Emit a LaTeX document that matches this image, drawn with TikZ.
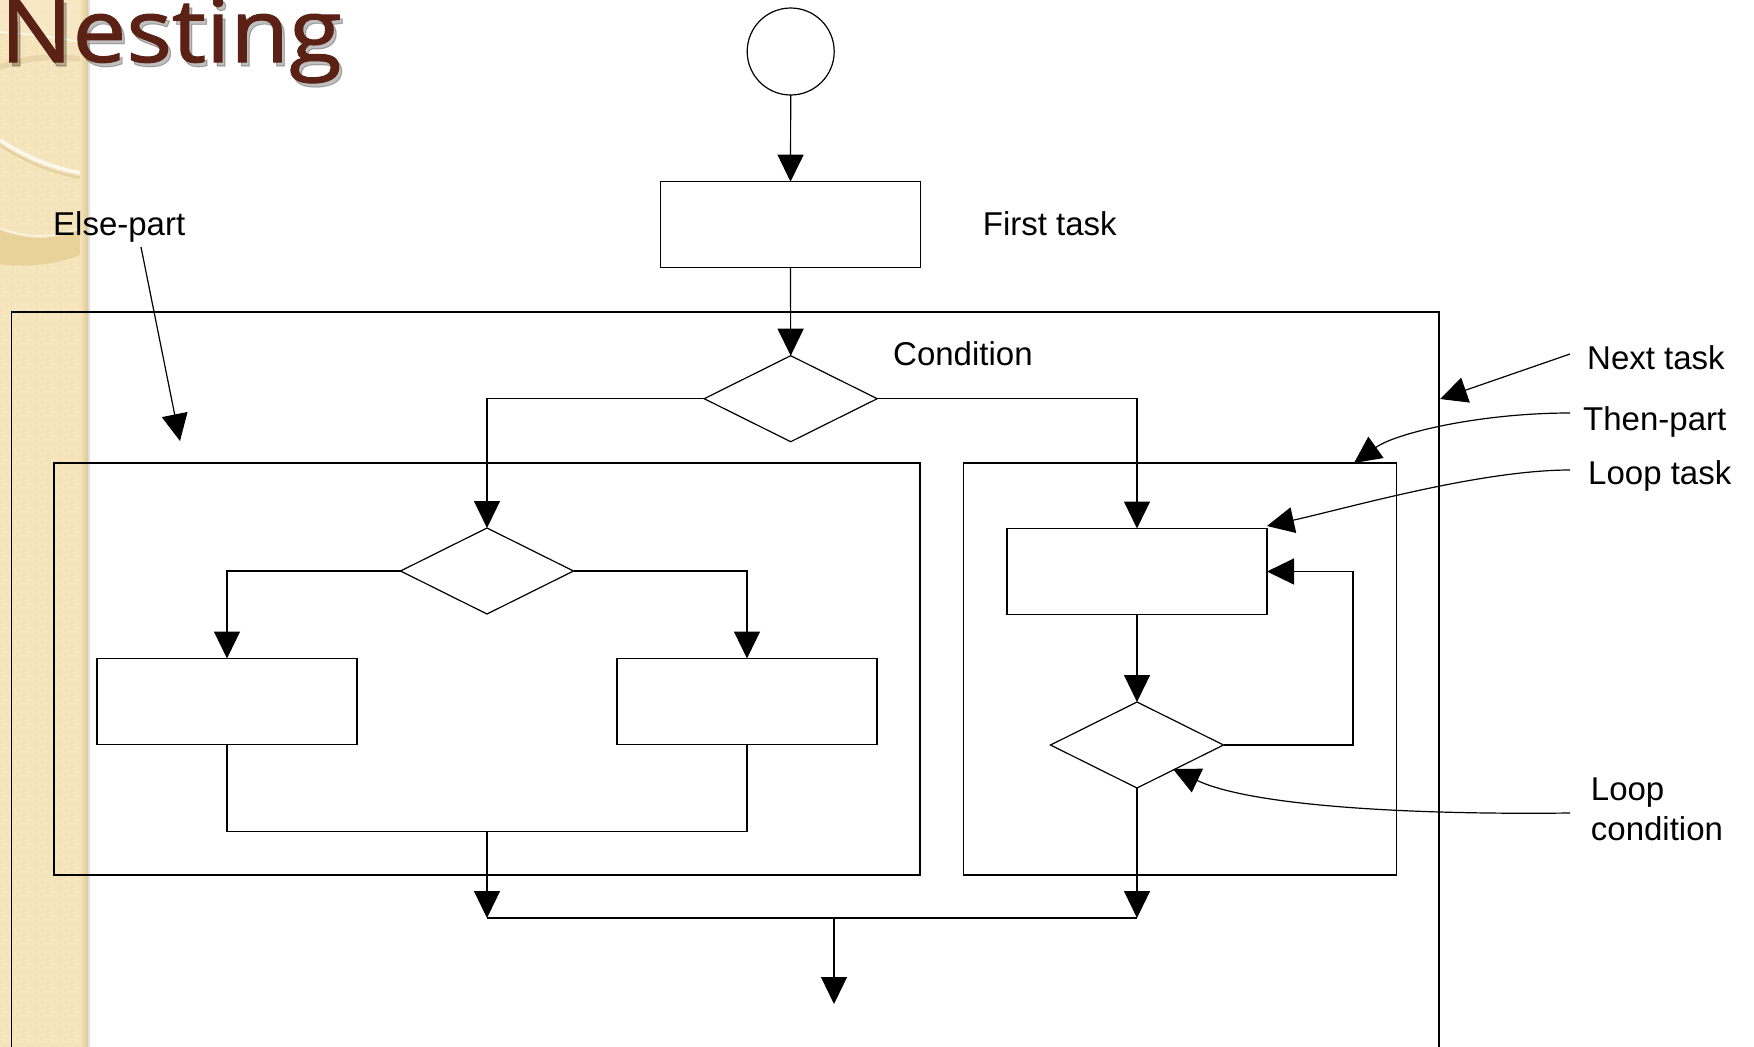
\documentclass[tikz,border=0pt]{standalone}
\usepackage{fontspec}
\setmainfont{Liberation Sans}
\newfontfamily\titlefont[FakeBold=1.2]{Open Sans}
\usetikzlibrary{arrows.meta,shapes.geometric,calc}
\definecolor{stripcol}{RGB}{245,228,186}
\definecolor{striplight}{RGB}{248,234,200}
\definecolor{stripdark}{RGB}{222,202,152}
\definecolor{stripband}{RGB}{232,210,154}
\definecolor{titlecol}{RGB}{91,33,21}
\begin{document}
\begin{tikzpicture}[x=1pt,y=-1pt]
\tikzset{
  ln/.style={line width=1.2pt, draw=black},
  tip/.style={ln, -{Triangle[width=26pt,length=27pt]}},
  taskbox/.style={ln, rectangle, minimum width=260pt, minimum height=86pt, inner sep=0pt, outer sep=0pt},
  decision/.style={ln, diamond, minimum width=173pt, minimum height=86pt, inner sep=0pt, outer sep=0pt},
  region/.style={ln, rectangle, inner sep=0pt, outer sep=0pt},
  lbl/.style={font=\fontsize{33}{40}\selectfont, anchor=base west, inner sep=0pt},
  titletext/.style={anchor=base west, inner sep=0pt, font=\titlefont\fontsize{88}{88}\selectfont},
}
\useasboundingbox (0,0) rectangle (1754,1047);
\fill[white] (0,0) rectangle (1754,1047);

% ---- decorative left strip ----
\fill[stripcol] (0,0) rectangle (88,1047);
\foreach \i in {0,...,6} {
  \foreach \j in {0,...,87} {
    \draw[striplight, line width=1pt] (\i*12+3,\j*12+3) rectangle ++(6,6);
  }
}
\begin{scope}
  \clip (0,0) rectangle (88,1047);
  \fill[striplight,opacity=0.7] (0,0) -- (88,0) -- (88,43) .. controls (60,38) and (30,34) .. (0,32) -- cycle;
  \draw[line width=1.5pt, white, opacity=0.8] (0,32) .. controls (30,34) and (60,38) .. (88,43);
  \fill[stripdark, opacity=0.5] (0,70) .. controls (30,59) and (60,58) .. (88,63)
     -- (88,58) .. controls (60,52) and (30,53) .. (0,64) -- cycle;
  \draw[line width=3.5pt, white!75!stripcol] (0,140) .. controls (30,160) and (60,170) .. (88,174);
  \draw[line width=2.5pt, stripdark, opacity=0.7] (0,145) .. controls (30,165) and (60,175) .. (88,179);
  \fill[stripband] (0,230) .. controls (30,242) and (60,240) .. (88,226)
     -- (88,252) .. controls (60,264) and (30,268) .. (0,264) -- cycle;
  \draw[line width=1.5pt, white!60!stripcol] (0,228) .. controls (30,240) and (60,238) .. (88,224);
\end{scope}
\shade[left color=stripcol, right color=stripdark] (80,0) rectangle (88,1047);
\fill[black!12] (88,0) rectangle (90,1047);

% ---- title ----
\node[titletext, text=black, opacity=0.25] (titleshadow) at (3,66)
  {\scalebox{1.09}[1]{Nesting}};
\node[titletext, text=titlecol] (title) at (0,62)
  {\scalebox{1.09}[1]{Nesting}};

% ---- outer frame (Next task) ----
\coordinate (outerBL) at (11.7,1047);
\coordinate (outerTR) at (1439,312);
\coordinate (outerBR) at (1439,1047);
\draw[ln] (outerBL) |- (outerTR) -- (outerBR);

% ---- nodes ----
\node[ln, circle, minimum size=87pt, inner sep=0pt, outer sep=0pt] (start) at (790.7,51.5) {};
\node[taskbox] (first) at (790.5,224.7) {};
\node[decision] (cond) at (790.7,398.7) {};
\node[region, minimum width=866pt, minimum height=412pt] (elsebox) at (487,669) {};
\node[region, minimum width=433pt, minimum height=412pt] (thenbox) at (1180,669) {};
\node[decision] (inner) at (487,571) {};
\node[taskbox] (lefttask) at (227,701.5) {};
\node[taskbox] (righttask) at (747,701.5) {};
\node[taskbox] (looptask) at (1137,571.5) {};
\node[decision] (loopcond) at (1137,745) {};

\coordinate (joinL) at (487,831.7);
\coordinate (mergeL) at (487,918);
\coordinate (mergeR) at (1137,918);
\coordinate (mergeM) at (834,918);
\coordinate (exit) at (834,1004);
\coordinate (backx) at (1353,745);

% ---- connectors ----
\draw[tip] (start.south) -- (first.north);
\draw[tip] (first.south) -- (cond.north);
\draw[tip] (cond.west) -| (inner.north);
\draw[tip] (cond.east) -| (looptask.north);
\draw[tip] (inner.west) -| (lefttask.north);
\draw[tip] (inner.east) -| (righttask.north);
\draw[ln] (lefttask.south) |- (joinL) -| (righttask.south);
\draw[tip] (joinL) -- (mergeL);
\draw[tip] (looptask.south) -- (loopcond.north);
\draw[tip] (loopcond.east) -- (backx) |- (looptask.east);
\draw[tip] (loopcond.south) -- (mergeR);
\draw[ln] (mergeL) -- (mergeR);
\draw[tip] (mergeM) -- (exit);

% ---- labels ----
\node[lbl] (firstlbl) at (982.7,235) {First task};
\node[lbl] (condlbl) at (893,365) {Condition};
\node[lbl] (elselbl) at (53,235) {Else-part};
\node[lbl] (nextlbl) at (1587,369) {Next task};
\node[lbl] (thenlbl) at (1583,430) {Then-part};
\node[lbl] (looplbl) at (1588,484) {Loop task};
\node[lbl, anchor=north west, align=left] (loopcondlbl) at (1590.7,777.3) {Loop\\condition};

% ---- annotation arrows ----
\coordinate (elsefrom) at (141,247);
\coordinate (elsetip) at (180,441);
\coordinate (nextfrom) at (1570,354);
\coordinate (nexttip) at (1440,399);
\coordinate (thenfrom) at (1570,413);
\coordinate (thentip) at (1354,463);
\coordinate (loopfrom) at (1570,470);
\coordinate (looptip) at (1267,526);
\coordinate (lcfrom) at (1570,813);
\coordinate (lctip) at (1173,769);
\draw[tip] (elsefrom) -- (elsetip);
\draw[tip] (nextfrom) -- (nexttip);
\draw[tip] (thenfrom) .. controls (1480,413) and (1396,433) .. (thentip);
\draw[tip] (loopfrom) .. controls (1480,470) and (1348,508) .. (looptip);
\draw[tip] (lcfrom) .. controls (1400,815) and (1249,805) .. (lctip);
\end{tikzpicture}
\end{document}
